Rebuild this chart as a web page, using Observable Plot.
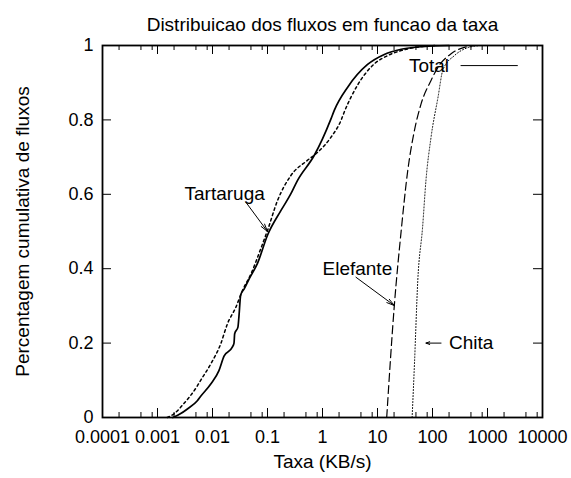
<!DOCTYPE html>
<html>
<head>
<meta charset="utf-8">
<script src="https://cdn.jsdelivr.net/npm/d3@7"></script>
<script src="https://cdn.jsdelivr.net/npm/@observablehq/plot@0.6"></script>
<style>
  body { margin: 0; background: #fff; }
  svg { font-family: "Liberation Sans", Arial, Helvetica, sans-serif; }
</style>
</head>
<body>
<div id="chart"></div>
<script>
// ---- data ----
const titleText = "Distribuicao dos fluxos em funcao da taxa";
const xLabelText = "Taxa (KB/s)";
const yLabelText = "Percentagem cumulativa de fluxos";

const totalX = [0.0019, 0.0026, 0.0035, 0.0053, 0.0061, 0.0093, 0.0131, 0.0162, 0.0229, 0.0246, 0.0253, 0.029, 0.0302, 0.0326, 0.0375, 0.0462, 0.066, 0.1, 0.175, 0.265, 0.35, 0.71, 1.0, 1.42, 1.63, 2.87, 6.6, 13.3, 27, 54, 100, 200];
const totalY = [0, 0.01, 0.023, 0.045, 0.057, 0.09, 0.126, 0.165, 0.189, 0.2, 0.225, 0.243, 0.27, 0.33, 0.345, 0.372, 0.415, 0.49, 0.556, 0.601, 0.637, 0.705, 0.749, 0.802, 0.825, 0.888, 0.949, 0.976, 0.99, 0.996, 0.999, 1];

const tartarugaX = [0.0015, 0.002, 0.003, 0.0053, 0.0061, 0.0093, 0.0141, 0.0187, 0.0265, 0.035, 0.05, 0.076, 0.1, 0.152, 0.265, 0.53, 0.82, 1.42, 2.16, 2.5, 4.4, 8.8, 15.4, 36, 60, 120];
const tartarugaY = [0, 0.01, 0.037, 0.085, 0.1, 0.144, 0.198, 0.252, 0.296, 0.341, 0.386, 0.455, 0.503, 0.583, 0.65, 0.691, 0.713, 0.753, 0.798, 0.822, 0.895, 0.951, 0.973, 0.991, 0.997, 1];

const elefanteX = [14.7, 20.2, 27, 35.5, 47, 62, 94, 124, 218, 380, 600];
const elefanteY = [0, 0.3, 0.503, 0.664, 0.772, 0.843, 0.906, 0.94, 0.978, 0.995, 1];

const chitaX = [42.6, 47, 54, 66, 76, 94, 126, 155, 251, 436, 770];
const chitaY = [0, 0.144, 0.368, 0.511, 0.637, 0.753, 0.861, 0.935, 0.973, 0.994, 1];

const xTickValues = [1e-4, 1e-3, 1e-2, 1e-1, 1, 10, 100, 1000, 10000];
const xTickLabels = ["0.0001", "0.001", "0.01", "0.1", "1", "10", "100", "1000", "10000"];
const minorMultipliers = [2, 5, 8];
const yTickValues = [0, 0.2, 0.4, 0.6, 0.8, 1];
const yTickLabels = ["0", "0.2", "0.4", "0.6", "0.8", "1"];

// annotation labels (gnuplot-style, data coordinates)
const labelNames = ["Tartaruga", "Elefante", "Chita"];
const labelX = [0.0031, 1.0, 200];
const labelY = [0.602, 0.40, 0.2];
const arrowFromX = [0.0403, 4.06, 143];
const arrowFromY = [0.579, 0.377, 0.2];
const arrowToX = [0.1, 20.2, 76];
const arrowToY = [0.5, 0.301, 0.2];
const arrowBig = [true, true, false];

// key
const keyName = ["Total"];
const keyTextX = [200];
const keyY = [0.946];
const keyLineX1 = [331];
const keyLineX2 = [3630];

// ---- build ----
const W = 571, H = 478;
const mt = 45, mb = 61, ml = 102, mr = 29;
const innerW = W - ml - mr, innerH = H - mt - mb;
const toRows = (name, xs, ys) => xs.map((x, i) => ({name, x, y: ys[i]}));
const minorTicks = xTickValues.slice(0, -1).flatMap(v => minorMultipliers.map(m => v * m));
const labels = labelNames.map((t, i) => ({t, x: labelX[i], y: labelY[i]}));
const arrows = labelNames.map((t, i) => ({x1: arrowFromX[i], y1: arrowFromY[i], x2: arrowToX[i], y2: arrowToY[i], big: arrowBig[i]}));
const keyRows = keyName.map((t, i) => ({t, x: keyTextX[i], y: keyY[i], x1: keyLineX1[i], x2: keyLineX2[i]}));

const majorLen = 9, minorLen = 5;
const FS = 19, TFS = 18;

const chart = Plot.plot({
  width: W, height: H,
  marginTop: mt, marginBottom: mb, marginLeft: ml, marginRight: mr,
  style: {fontFamily: '"Liberation Sans", Arial, sans-serif', fontSize: TFS + "px", color: "black", background: "white", overflow: "visible"},
  x: {type: "log", domain: [1e-4, 1e4]},
  y: {domain: [0, 1]},
  marks: [
    Plot.axisX(xTickValues, {tickSize: 0, tickPadding: 13, tickFormat: d => xTickLabels[xTickValues.indexOf(d)], label: null, fontSize: TFS}),
    Plot.axisY(yTickValues, {tickSize: 0, tickPadding: 9, tickFormat: d => yTickLabels[yTickValues.indexOf(d)], label: null, fontSize: TFS}),
    // inward ticks
    Plot.tickX(xTickValues, {x: d => d, insetTop: innerH - majorLen, stroke: "black"}),
    Plot.tickX(xTickValues, {x: d => d, insetBottom: innerH - majorLen, stroke: "black"}),
    Plot.tickX(minorTicks, {x: d => d, insetTop: innerH - minorLen, stroke: "black"}),
    Plot.tickX(minorTicks, {x: d => d, insetBottom: innerH - minorLen, stroke: "black"}),
    Plot.tickY(yTickValues, {y: d => d, insetRight: innerW - majorLen, stroke: "black"}),
    Plot.tickY(yTickValues, {y: d => d, insetLeft: innerW - majorLen, stroke: "black"}),
    // curves
    Plot.line(toRows("Tartaruga", tartarugaX, tartarugaY), {x: "x", y: "y", stroke: "black", strokeWidth: 1.5, strokeDasharray: "2.5,3", curve: "monotone-x"}),
    Plot.line(toRows("Total", totalX, totalY), {x: "x", y: "y", stroke: "black", strokeWidth: 1.7, curve: "monotone-x"}),
    Plot.line(toRows("Elefante", elefanteX, elefanteY), {x: "x", y: "y", stroke: "black", strokeWidth: 1.2, strokeDasharray: "8,4", curve: "monotone-x"}),
    Plot.line(toRows("Chita", chitaX, chitaY), {x: "x", y: "y", stroke: "black", strokeWidth: 1, strokeDasharray: "1,2", curve: "monotone-x"}),
    // annotations
    Plot.arrow(arrows.filter(d => d.big), {x1: "x1", y1: "y1", x2: "x2", y2: "y2", stroke: "black", strokeWidth: 1, headLength: 12, headAngle: 30}),
    Plot.arrow(arrows.filter(d => !d.big), {x1: "x1", y1: "y1", x2: "x2", y2: "y2", stroke: "black", strokeWidth: 1, headLength: 6, headAngle: 40}),
    Plot.text(labels, {x: "x", y: "y", text: "t", textAnchor: "start", fontSize: FS}),
    // key
    Plot.text(keyRows, {x: "x", y: "y", text: "t", textAnchor: "end", fontSize: FS}),
    Plot.ruleY(keyRows, {y: "y", x1: "x1", x2: "x2", stroke: "black", strokeWidth: 1}),
    // titles
    Plot.text([titleText], {frameAnchor: "top", dy: -28, fontSize: FS}),
    Plot.text([xLabelText], {frameAnchor: "bottom", dy: 50, fontSize: FS}),
    Plot.text([yLabelText], {frameAnchor: "left", textAnchor: "middle", rotate: -90, dx: -80, fontSize: FS}),
    Plot.frame({stroke: "black", strokeWidth: 1.8})
  ]
});
document.getElementById("chart").appendChild(chart);
</script>
</body>
</html>
